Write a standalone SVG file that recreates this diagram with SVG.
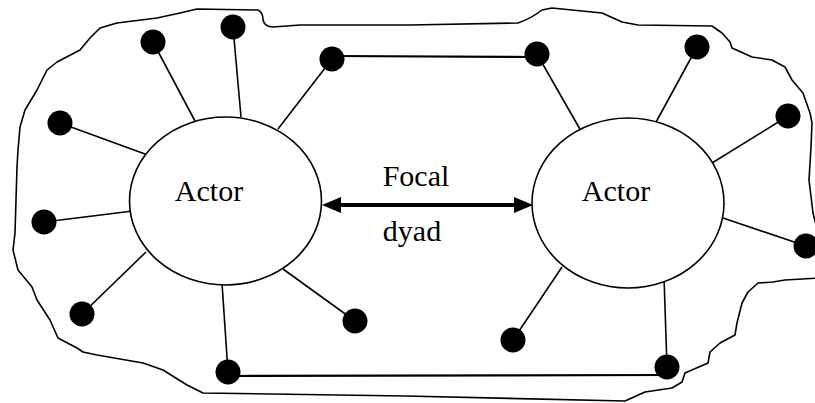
<svg xmlns="http://www.w3.org/2000/svg" width="815" height="403" viewBox="0 0 815 403">
  <style>
    .bound { fill: none; stroke: #000; stroke-width: 1.6; stroke-linejoin: round; }
    .actor { fill: #fff; stroke: #000; stroke-width: 1.6; }
    .dot { fill: #000; }
    .spoke { stroke: #000; stroke-width: 1.6; fill: none; }
    .tie { stroke: #000; stroke-width: 2.2; fill: none; }
    .dyad { stroke: #000; stroke-width: 4; fill: none; }
    .head { fill: #000; }
    text { font-family: "Liberation Serif", "Times New Roman", serif; font-size: 30px; fill: #000; text-anchor: middle; }
  </style>
  <rect width="815" height="403" fill="#fff"/>
  <g id="boundary">
    <path class="bound" d="M 197,9 L 258,10 Q 263,12 263,20 Q 265,27 273,27 L 300,25 L 333,25 L 410,25 L 518,23 Q 532,18 542,10 L 552,8 L 602,13 L 622,22 L 638,25 L 712,26 L 722,33 L 730,42 L 732,48 L 752,57 L 772,60 L 785,67 L 792,80 L 803,93 L 810,113 L 812,123 L 811,147 L 809,180 L 813,213 L 820,240 L 820,278 L 785,280 L 773,282 L 758,283 L 748,292 L 742,303 L 737,323 L 735,335 L 720,343 L 710,352 L 708,363 L 685,373 L 682,382 L 672,388 L 645,392 L 625,401 L 405,396 L 203,393 L 187,385 L 163,370 L 143,363 L 97,355 L 83,352 L 77,348 L 58,338 L 50,320 L 37,300 L 32,287 L 18,270 L 13,250 L 15,233 L 17,167 L 18,150 L 20,127 L 25,110 L 37,90 L 47,70 L 57,62 L 80,50 L 90,38 L 100,28 L 117,23 L 157,18 L 180,13 Z"/>
  </g>
  <g id="connectors">
    <line class="spoke" x1="153" y1="42" x2="195" y2="121"/>
    <line class="spoke" x1="233" y1="27" x2="241" y2="117"/>
    <line class="spoke" x1="332" y1="59" x2="278" y2="129"/>
    <line class="spoke" x1="60" y1="123" x2="145" y2="154"/>
    <line class="spoke" x1="44" y1="222" x2="133" y2="211"/>
    <line class="spoke" x1="82" y1="314" x2="146" y2="252"/>
    <line class="spoke" x1="228" y1="372" x2="222" y2="283"/>
    <line class="spoke" x1="355" y1="321" x2="283" y2="269"/>
    <line class="spoke" x1="537" y1="54" x2="581" y2="131"/>
    <line class="spoke" x1="697" y1="47" x2="655" y2="124"/>
    <line class="spoke" x1="788" y1="116" x2="712" y2="163"/>
    <line class="spoke" x1="806" y1="246" x2="723" y2="218"/>
    <line class="spoke" x1="513" y1="340" x2="562" y2="267"/>
    <line class="spoke" x1="667" y1="367" x2="664" y2="277"/>
    <line class="tie" x1="332" y1="56" x2="537" y2="57"/>
    <line class="tie" x1="228" y1="376" x2="667" y2="375"/>
    <line class="dyad" x1="336" y1="205" x2="519" y2="205"/>
    <polygon class="head" points="322,205 341,197 341,213"/>
    <polygon class="head" points="533,205 514,197 514,213"/>
  </g>
  <g id="actor-left">
    <ellipse class="actor" cx="225.5" cy="201" rx="96" ry="84"/>
    <text x="209" y="201">Actor</text>
  </g>
  <g id="actor-right">
    <ellipse class="actor" cx="628" cy="203" rx="96" ry="85"/>
    <text x="616" y="201">Actor</text>
  </g>
  <g id="label-focal-dyad">
    <text x="416" y="186">Focal</text>
    <text x="412" y="241">dyad</text>
  </g>
  <g id="node-l1"><circle class="dot" cx="153" cy="42" r="12.5"/></g>
  <g id="node-l2"><circle class="dot" cx="233" cy="27" r="12.5"/></g>
  <g id="node-l3"><circle class="dot" cx="332" cy="59" r="12.5"/></g>
  <g id="node-l4"><circle class="dot" cx="60" cy="123" r="12.5"/></g>
  <g id="node-l5"><circle class="dot" cx="44" cy="222" r="12.5"/></g>
  <g id="node-l6"><circle class="dot" cx="82" cy="314" r="12.5"/></g>
  <g id="node-l7"><circle class="dot" cx="228" cy="372" r="12.5"/></g>
  <g id="node-l8"><circle class="dot" cx="355" cy="321" r="12.5"/></g>
  <g id="node-r1"><circle class="dot" cx="537" cy="54" r="12.5"/></g>
  <g id="node-r2"><circle class="dot" cx="697" cy="47" r="12.5"/></g>
  <g id="node-r3"><circle class="dot" cx="788" cy="116" r="12.5"/></g>
  <g id="node-r4"><circle class="dot" cx="806" cy="246" r="12.5"/></g>
  <g id="node-r5"><circle class="dot" cx="513" cy="340" r="12.5"/></g>
  <g id="node-r6"><circle class="dot" cx="667" cy="367" r="12.5"/></g>
</svg>
